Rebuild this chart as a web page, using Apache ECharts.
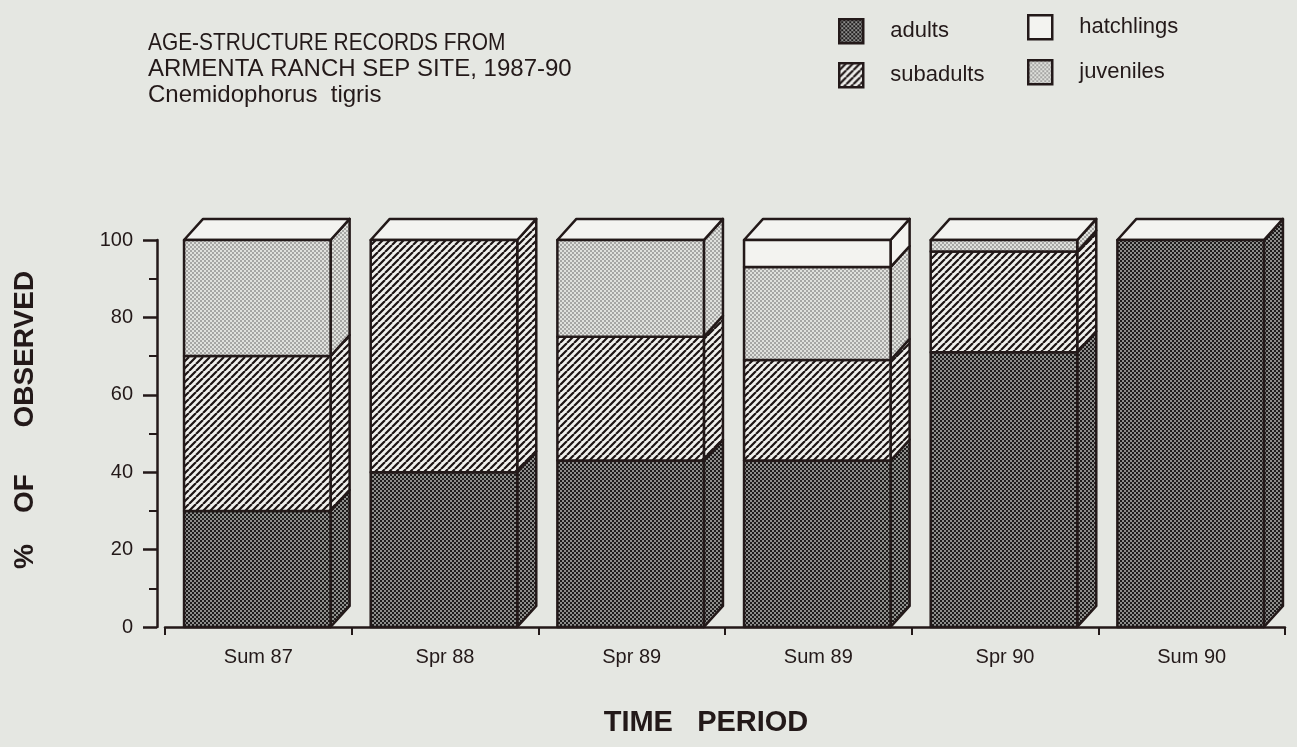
<!DOCTYPE html>
<html>
<head>
<meta charset="utf-8">
<script src="https://cdn.jsdelivr.net/npm/echarts@6/dist/echarts.min.js"></script>
<style>
html,body{margin:0;padding:0;background:#e5e7e2;}
#chart{width:1297px;height:747px;}
</style>
</head>
<body>
<div id="chart"></div>
<script>
// ---- data (percent of observed) ----
const categories = ['Sum 87', 'Spr 88', 'Spr 89', 'Sum 89', 'Spr 90', 'Sum 90'];
const adults     = [30, 40, 43, 43, 71, 100];
const subadults  = [40, 60, 32, 26, 26, 0];
const juveniles  = [30, 0, 25, 24, 3, 0];
const hatchlings = [0, 0, 0, 7, 0, 0];
const yTicks = [0, 20, 40, 60, 80, 100];
const seriesNames = ['adults', 'subadults', 'juveniles', 'hatchlings'];
const titleLines = ['AGE-STRUCTURE RECORDS FROM', 'ARMENTA RANCH SEP SITE, 1987-90', 'Cnemidophorus  tigris'];
const xName = 'TIME   PERIOD';
const yName = '%    OF      OBSERVED';

const INK = '#231919';
const BG = '#e5e7e2';
const FONT = '"Liberation Sans", Arial, sans-serif';

function checker(a, b, cell) {
  const c = document.createElement('canvas');
  c.width = c.height = cell * 2;
  const g = c.getContext('2d');
  g.fillStyle = a; g.fillRect(0, 0, cell * 2, cell * 2);
  g.fillStyle = b; g.fillRect(0, 0, cell, cell); g.fillRect(cell, cell, cell, cell);
  return { image: c, repeat: 'repeat' };
}
function hatch() {
  const s = 7;
  const c = document.createElement('canvas');
  c.width = c.height = s;
  const g = c.getContext('2d');
  g.fillStyle = '#f0f0ed'; g.fillRect(0, 0, s, s);
  g.strokeStyle = '#1c1414'; g.lineWidth = 2.2;
  g.beginPath();
  for (let k = -s; k <= s; k += s) { g.moveTo(k, s); g.lineTo(k + s, 0); }
  g.stroke();
  return { image: c, repeat: 'repeat' };
}
const fills = {
  adults: checker('#8e8e8c', '#1e1c1c', 2),
  subadults: hatch(),
  juveniles: checker('#e0e1dd', '#a6a6a4', 2),
  hatchlings: '#f3f3f0'
};

const seriesValues = [adults, subadults, juveniles, hatchlings];
const totals = categories.map((_, i) => seriesValues.reduce((s, arr) => s + arr[i], 0));
const cum = categories.map(() => 0);

function makeRender(fill) {
  return function (params, api) {
    const ci = api.value(0), lo = api.value(1), hi = api.value(2), top = api.value(3);
    if (hi - lo <= 0) return null;
    const band = api.size([1, 0])[0];
    const pLo = api.coord([ci, lo]);
    const pHi = api.coord([ci, hi]);
    const x0 = pLo[0] - band / 2 + band * 0.102;
    const w = band * 0.785, dx = band * 0.102, dy = -band * 0.113;
    const yB = pLo[1], yT = pHi[1];
    const st = { stroke: INK, lineWidth: 2.5, lineJoin: 'round' };
    const children = [];
    children.push({
      type: 'polygon',
      shape: { points: [[x0 + w, yT], [x0 + w + dx, yT + dy], [x0 + w + dx, yB + dy], [x0 + w, yB]] },
      style: Object.assign({ fill: fill }, st)
    });
    if (hi >= top - 1e-9) {
      children.push({
        type: 'polygon',
        shape: { points: [[x0, yT], [x0 + dx, yT + dy], [x0 + w + dx, yT + dy], [x0 + w, yT]] },
        style: Object.assign({ fill: '#f3f3f0' }, st)
      });
    }
    children.push({
      type: 'rect',
      shape: { x: x0, y: yT, width: w, height: yB - yT },
      style: Object.assign({ fill: fill }, st)
    });
    return { type: 'group', children: children };
  };
}

const series = seriesNames.map((name, si) => {
  const vals = seriesValues[si];
  const data = categories.map((c, i) => {
    const lo = cum[i];
    cum[i] += vals[i];
    return [i, lo, cum[i], totals[i]];
  });
  return {
    type: 'custom',
    name: name,
    renderItem: makeRender(fills[name]),
    encode: { x: 0, y: [1, 2] },
    itemStyle: { color: fills[name], borderColor: INK, borderWidth: 2.5 },
    data: data,
    z: 2 + si
  };
});

function legendItem(name, left, top) {
  return {
    data: [name], left: left, top: top, icon: 'rect', padding: 0,
    itemWidth: 24, itemHeight: 24, selectedMode: false,
    itemStyle: { borderColor: INK, borderWidth: 2.5 },
    textStyle: { fontSize: 22, color: INK, fontFamily: FONT, padding: [0, 0, 0, 22] }
  };
}

const chart = echarts.init(document.getElementById('chart'), null, { renderer: 'canvas' });
chart.setOption({
  backgroundColor: BG,
  animation: false,
  textStyle: { fontFamily: FONT },
  grid: { left: 165, right: 12, top: 240, bottom: 120 },
  legend: [
    legendItem('adults', 838, 18),
    legendItem('hatchlings', 1027, 14),
    legendItem('subadults', 838, 62),
    legendItem('juveniles', 1027, 59)
  ],
  xAxis: {
    type: 'category',
    data: categories,
    boundaryGap: true,
    axisLine: { lineStyle: { color: INK, width: 2.5 } },
    axisTick: { show: true, length: 8, interval: 0, lineStyle: { color: INK, width: 2 } },
    axisLabel: { color: INK, fontSize: 20, margin: 20, interval: 0 },
    splitLine: { show: false }
  },
  yAxis: {
    type: 'value',
    min: yTicks[0], max: yTicks[yTicks.length - 1], interval: yTicks[1] - yTicks[0],
    offset: 8,
    axisLine: { show: true, lineStyle: { color: INK, width: 2.5 } },
    axisTick: { show: true, length: 14, lineStyle: { color: INK, width: 2.5 } },
    minorTick: { show: true, splitNumber: 2, length: 8, lineStyle: { color: INK, width: 2 } },
    axisLabel: { color: INK, fontSize: 20, margin: 24 },
    splitLine: { show: false }
  },
  graphic: [
    { type: 'text', x: 148, y: 43, scaleX: 0.87, style: { text: titleLines[0], font: '24px ' + FONT, fill: INK, textVerticalAlign: 'middle' } },
    { type: 'text', x: 148, y: 69, style: { text: titleLines[1], font: '24px ' + FONT, fill: INK, textVerticalAlign: 'middle' } },
    { type: 'text', x: 148, y: 95, style: { text: titleLines[2], font: '24px ' + FONT, fill: INK, textVerticalAlign: 'middle' } },
    { type: 'text', x: 706, y: 723, style: { text: xName, font: 'bold 29px ' + FONT, fill: INK, textAlign: 'center', textVerticalAlign: 'middle' } },
    { type: 'text', x: 25, y: 420, rotation: Math.PI / 2, style: { text: yName, font: 'bold 28px ' + FONT, fill: INK, textAlign: 'center', textVerticalAlign: 'middle' } }
  ],
  series: series
});
</script>
</body>
</html>
